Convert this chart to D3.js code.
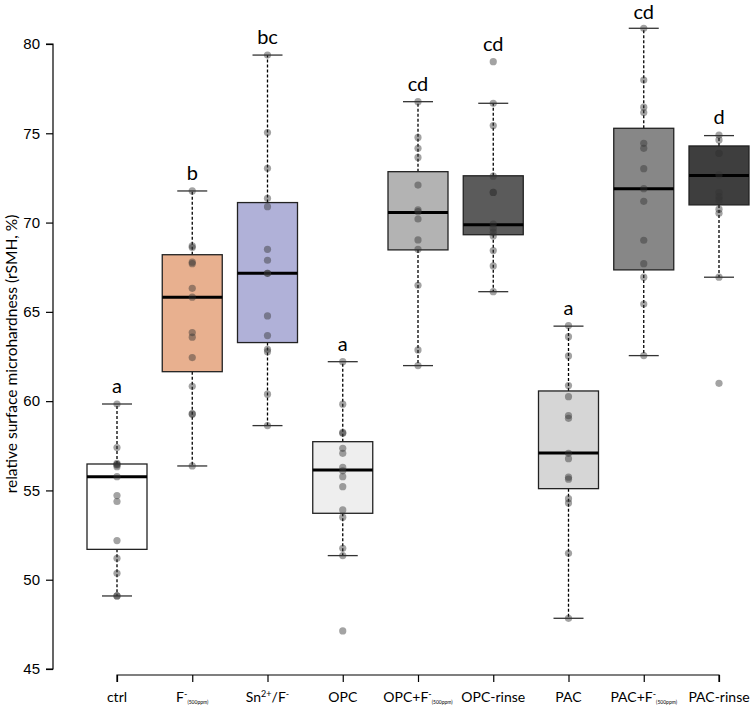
<!DOCTYPE html>
<html><head><meta charset="utf-8">
<script src="https://cdn.jsdelivr.net/npm/d3@7"></script>
<style>body{margin:0;background:#fff}svg{display:block}</style>
</head><body>
<script>
const categories = ["ctrl","F","Sn","OPC","OPC+F","OPC-rinse","PAC","PAC+F","PAC-rinse"];
const boxLow  = [49.09, 56.37, 58.63, 51.35, 61.99, 66.13, 47.84, 62.55, 66.94];
const boxQ1   = [51.70, 61.65, 63.28, 53.72, 68.47, 69.32, 55.10, 67.35, 70.99];
const boxMed  = [55.77, 65.82, 67.16, 56.15, 70.56, 69.88, 57.10, 71.90, 72.63];
const boxQ3   = [56.48, 68.20, 71.12, 57.73, 72.85, 72.62, 60.57, 75.28, 74.29];
const boxHigh = [59.84, 71.77, 79.38, 62.21, 76.77, 76.68, 64.20, 80.88, 74.87];
const points = [
  [59.84, 57.40, 56.52, 56.45, 56.43, 56.33, 55.77, 54.71, 54.38, 52.19, 51.2, 50.36, 49.09, 49.09],
  [71.77, 68.69, 68.6, 67.78, 67.7, 66.32, 65.82, 63.84, 63.58, 62.44, 60.83, 59.27, 59.3, 56.37],
  [79.38, 75.04, 73.04, 71.36, 70.89, 68.5, 67.89, 67.16, 67.16, 64.77, 63.67, 62.9, 62.77, 60.39, 58.63],
  [62.21, 59.83, 58.2, 58.25, 57.36, 57.08, 56.29, 56.1, 55.77, 55.21, 53.91, 53.5, 51.76, 51.35, 47.13],
  [76.77, 74.77, 74.16, 73.65, 72.1, 70.71, 70.61, 70.2, 69.03, 68.5, 66.49, 62.87, 61.99],
  [79.01, 76.68, 75.43, 72.6, 71.69, 71.69, 69.92, 69.68, 69.46, 69.25, 68.43, 67.57, 66.13],
  [64.23, 63.61, 62.53, 60.87, 60.25, 59.19, 59.04, 57.08, 56.78, 55.74, 55.63, 54.54, 54.29, 51.48, 47.84],
  [80.88, 77.98, 76.46, 76.16, 74.44, 74.16, 73.02, 71.9, 71.19, 69.01, 67.7, 66.94, 65.44, 62.55],
  [74.9, 74.63, 73.88, 73.88, 72.67, 71.68, 71.45, 71.27, 70.75, 70.52, 66.94, 61.0]
];
const letters = ["a","b","bc","a","cd","cd","a","cd","d"];
const fills = ["#ffffff","#e8b08f","#b0b1d8","#eeeeee","#b3b3b3","#5b5b5b","#d6d6d6","#878787","#3e3e3e"];
const yTicks = [45,50,55,60,65,70,75,80];

const W = 750, H = 708;
const svg = d3.select("body").append("svg").attr("width", W).attr("height", H);
const x = d3.scalePoint().domain(categories).range([117, 719]);
const y = d3.scaleLinear().domain([45, 80]).range([669, 44]);
const bw = 30, cw = 15;

// y axis
const ya = svg.append("g").attr("transform","translate(53,0)")
  .call(d3.axisLeft(y).tickValues(yTicks).tickSize(7).tickPadding(6).tickFormat(d3.format("d")));
ya.selectAll("text").attr("font-family","Liberation Sans, Arial, sans-serif").attr("font-size",15).attr("fill","#000");
ya.selectAll("line,path").attr("stroke","#000").attr("stroke-width",1.2);
ya.select("path").attr("d","M-7,"+y(80)+"H0V"+y(45)+"H-7");

svg.append("text")
  .attr("transform","translate(17,354) rotate(-90)")
  .attr("text-anchor","middle")
  .attr("font-family","Lato, sans-serif").attr("font-size",15.5).attr("fill","#000")
  .text("relative surface microhardness (rSMH, %)");

// x axis
const xa = svg.append("g").attr("transform","translate(0,675)")
  .call(d3.axisBottom(x).tickSize(7).tickFormat(""));
xa.selectAll("line,path").attr("stroke","#000").attr("stroke-width",1.2);
xa.select("path").attr("d","M"+x("ctrl")+",7V0H"+x("PAC-rinse")+"V7");

// x labels with sub/superscripts
const labelParts = {
  "ctrl":[["ctrl",""]],
  "F":[["F",""],["-","sup"],["(500ppm)","sub"]],
  "Sn":[["Sn",""],["2+","sup"],["/F",""],["-","sup"]],
  "OPC":[["OPC",""]],
  "OPC+F":[["OPC+F",""],["-","sup"],["(500ppm)","sub"]],
  "OPC-rinse":[["OPC-rinse",""]],
  "PAC":[["PAC",""]],
  "PAC+F":[["PAC+F",""],["-","sup"],["(500ppm)","sub"]],
  "PAC-rinse":[["PAC-rinse",""]]
};
categories.forEach(c => {
  const t = svg.append("text").attr("x", x(c)).attr("y", 702).attr("text-anchor","middle")
    .attr("font-family","Lato, sans-serif").attr("font-size",14).attr("fill","#000");
  let prev = 0;
  labelParts[c].forEach(([s,k]) => {
    const ts = t.append("tspan").text(s);
    let target = 0;
    if (k==="sup") { ts.attr("font-size",9); target = -5; }
    else if (k==="sub") { ts.attr("font-size",5); target = 2; }
    ts.attr("dy", target - prev); prev = target;
  });
});

// boxes
const g = svg.append("g");
categories.forEach((c,i) => {
  const cx = x(c);
  g.append("line").attr("x1",cx).attr("x2",cx).attr("y1",y(boxQ3[i])).attr("y2",y(boxHigh[i]))
    .attr("stroke","#000").attr("stroke-width",1.3).attr("stroke-dasharray","3,2");
  g.append("line").attr("x1",cx).attr("x2",cx).attr("y1",y(boxQ1[i])).attr("y2",y(boxLow[i]))
    .attr("stroke","#000").attr("stroke-width",1.3).attr("stroke-dasharray","3,2");
  [boxHigh[i], boxLow[i]].forEach(v => {
    g.append("line").attr("x1",cx-cw).attr("x2",cx+cw).attr("y1",y(v)).attr("y2",y(v))
      .attr("stroke","#333").attr("stroke-width",1.3);
  });
  g.append("rect").attr("x",cx-bw).attr("width",2*bw)
    .attr("y",y(boxQ3[i])).attr("height",y(boxQ1[i])-y(boxQ3[i]))
    .attr("fill",fills[i]).attr("stroke","#222").attr("stroke-width",1.3);
  g.append("line").attr("x1",cx-bw).attr("x2",cx+bw).attr("y1",y(boxMed[i])).attr("y2",y(boxMed[i]))
    .attr("stroke","#000").attr("stroke-width",3);
  g.selectAll(null).data(points[i]).enter().append("circle")
    .attr("cx",cx).attr("cy",d=>y(d)).attr("r",3.6)
    .attr("fill","#333").attr("fill-opacity",0.45);
  const top = d3.max(points[i].concat([boxHigh[i]]));
  g.append("text").attr("x",cx).attr("y",Math.max(y(top)-11, 19)).attr("text-anchor","middle")
    .attr("font-family","Lato, sans-serif").attr("font-size",20).attr("fill","#000")
    .text(letters[i]);
});
</script>
</body></html>
